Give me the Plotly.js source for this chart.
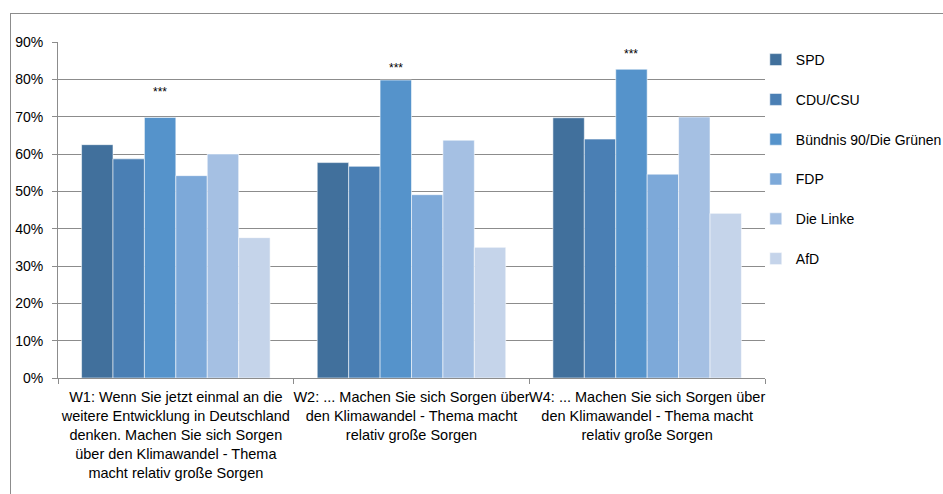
<!DOCTYPE html>
<html><head><meta charset="utf-8">
<script src="https://cdn.plot.ly/plotly-3.0.1.min.js"></script>
<style>
html,body{margin:0;padding:0;background:#fff;}
#wrap{position:relative;width:943px;height:494px;overflow:hidden;}
#frame{position:absolute;left:10px;top:13px;width:1000px;height:600px;border-top:1px solid #8c8c8c;border-left:1px solid #8c8c8c;}
#chart{position:absolute;left:0;top:0;width:943px;height:494px;}
</style></head>
<body><div id="wrap"><div id="frame"></div><div id="chart"></div></div>
<script>
const categories = [
  "W1: Wenn Sie jetzt einmal an die<br>weitere Entwicklung in Deutschland<br>denken. Machen Sie sich Sorgen<br>über den Klimawandel - Thema<br>macht relativ große Sorgen",
  "W2: ... Machen Sie sich Sorgen über<br>den Klimawandel - Thema macht<br>relativ große Sorgen",
  "W4: ... Machen Sie sich Sorgen über<br>den Klimawandel - Thema macht<br>relativ große Sorgen"
];
const parties = ["SPD", "CDU/CSU", "Bündnis 90/Die Grünen", "FDP", "Die Linke", "AfD"];
const spd     = [0.625, 0.577, 0.697];
const cdu     = [0.587, 0.567, 0.640];
const gruene  = [0.698, 0.798, 0.827];
const fdp     = [0.542, 0.491, 0.546];
const linke   = [0.600, 0.637, 0.699];
const afd     = [0.376, 0.350, 0.441];
const sigLabel = ["***", "***", "***"];
const sigLabelY = [0.765, 0.830, 0.868];
const colors = ["#41709C", "#4A7FB4", "#5593CB", "#7DA9D9", "#A5C0E3", "#C5D4EA"];
const yTicks = [0,0.1,0.2,0.3,0.4,0.5,0.6,0.7,0.8,0.9];

const seriesVals = [spd, cdu, gruene, fdp, linke, afd];
const FONT = "Liberation Sans, Arial, sans-serif";
const traces = seriesVals.map((v, i) => ({
  type: "bar", name: parties[i], x: categories, y: v,
  legendgroup: "g" + i,
  marker: {color: colors[i], line: {color: "rgba(255,255,255,0.55)", width: 1}},
  hoverinfo: "skip"
}));

const bargap = 0.2, nSer = parties.length;
const bw = (1 - bargap) / nSer;
const gIdx = 2;
const annotations = categories.map((c, k) => ({
  x: k + (gIdx - (nSer - 1) / 2) * bw, y: sigLabelY[k], xref: "x", yref: "y",
  text: sigLabel[k], showarrow: false, font: {family: FONT, size: 12, color: "#000"}
}));

const layout = {
  width: 943, height: 494,
  margin: {l: 58, r: 178, t: 42, b: 116, autoexpand: false},
  paper_bgcolor: "rgba(0,0,0,0)", plot_bgcolor: "rgba(0,0,0,0)",
  font: {family: FONT, size: 13, color: "#000"},
  barmode: "group", bargap: bargap, bargroupgap: 0,
  showlegend: true,
  legend: {x: 0.987, xanchor: "left", y: 0.994, yanchor: "top", tracegroupgap: 18.6,
           itemwidth: 30, font: {family: FONT, size: 14, color: "#000"}, bgcolor: "rgba(0,0,0,0)"},
  xaxis: {type: "category", showline: true, linecolor: "#8c8c8c", linewidth: 1,
          ticks: "outside", tickson: "boundaries", ticklen: 5, tickcolor: "#8c8c8c",
          tickfont: {family: FONT, size: 14.5, color: "#000"}, showgrid: false, zeroline: false,
          tickangle: 0, automargin: false, ticklabelstandoff: 6},
  yaxis: {range: [0, 0.9], tickvals: yTicks, tickformat: ".0%", showline: true, linecolor: "#8c8c8c",
          ticks: "outside", ticklen: 5, tickcolor: "#8c8c8c", showgrid: true, gridcolor: "#8c8c8c",
          gridwidth: 1, zeroline: false, tickfont: {family: FONT, size: 14, color: "#000"},
          automargin: false, ticklabelstandoff: 6},
  annotations: annotations
};
Plotly.newPlot("chart", traces, layout, {staticPlot: true, displayModeBar: false});
</script></body></html>
